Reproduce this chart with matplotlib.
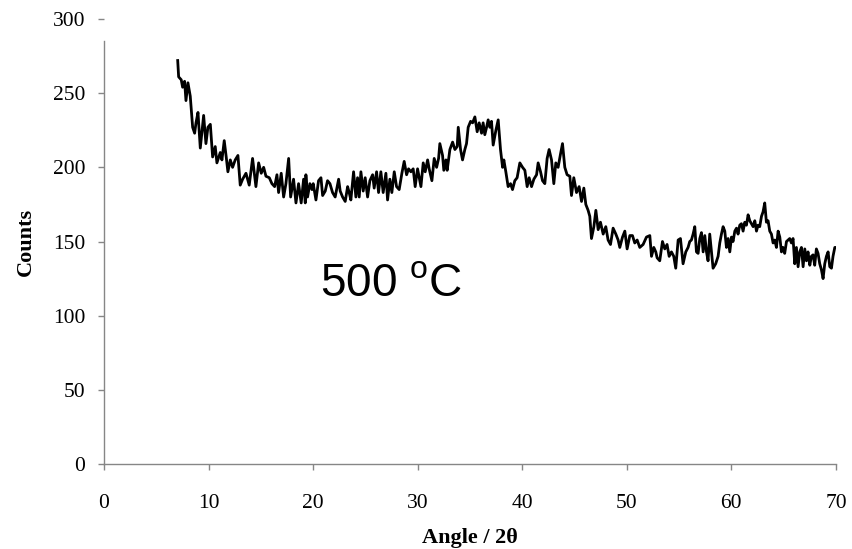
import matplotlib
matplotlib.use("Agg")
import matplotlib.pyplot as plt

# XRD pattern, in pieces (angle 2theta, counts)
angle_a = [7.05, 7.14, 7.39, 7.52, 7.71, 7.84, 8.03, 8.25, 8.48, 8.67, 8.80, 8.99,
           9.21, 9.53, 9.75, 9.94, 10.17, 10.39, 10.64, 10.80, 11.12, 11.28, 11.50,
           11.69, 11.85, 12.08, 12.30, 12.55, 12.81, 13.03, 13.26, 13.58, 13.89,
           14.21, 14.53, 14.79, 15.04, 15.27, 15.49, 15.81, 16.06, 16.32, 16.54,
           16.70, 16.95, 17.18, 17.40, 17.66, 17.85, 18.13, 18.36, 18.61, 18.86,
           19.09, 19.25]
counts_a = [272, 261, 259, 254, 258, 245, 257, 248, 227, 223, 230, 237,
            213, 235, 216, 227, 229, 207, 214, 203, 210, 205, 218,
            207, 197, 205, 200, 205, 208, 188, 192, 196, 188,
            206, 187, 203, 196, 200, 194, 193, 189, 187, 195,
            183, 196, 180, 189, 206, 180, 192, 176, 189, 176,
            192, 176]

angle_b = [19.31, 19.47, 19.69, 19.89, 20.01, 20.27, 20.52, 20.75, 20.91,
           21.16, 21.38, 21.61, 21.86, 22.11, 22.44, 22.59, 22.82, 23.07, 23.30,
           23.45, 23.61, 23.87, 24.09, 24.25, 24.41, 24.57, 24.79, 24.98, 25.21,
           25.43, 25.69, 25.84, 26.07, 26.26, 26.48, 26.70, 26.96, 27.12, 27.34,
           27.53, 27.76, 27.98, 28.23, 28.49, 28.71, 28.94, 29.13, 29.35, 29.57,
           29.76, 29.99, 30.31, 30.53, 30.72, 30.95, 31.10, 31.36, 31.58, 31.81, 32.00]
counts_b = [195, 180, 189, 185, 189, 178, 191, 193, 181,
            184, 191, 189, 183, 180, 192, 184, 180, 177, 187,
            183, 178, 197, 180, 193, 180, 197, 184, 193, 180,
            191, 195, 186, 197, 183, 197, 183, 196, 178, 192,
            183, 197, 187, 185, 196, 204, 195, 199, 197, 199,
            187, 199, 187, 203, 197, 205, 199, 191, 206, 200, 206]

angle_c = [32.12, 32.38, 32.50, 32.70, 32.82, 33.08, 33.34, 33.56, 33.78, 33.88,
           34.10, 34.29, 34.51, 34.67, 34.83, 35.06, 35.25, 35.47, 35.69, 35.88,
           36.11, 36.26, 36.42, 36.59, 36.74, 36.90, 37.06, 37.22, 37.48, 37.70,
           37.92, 38.12, 38.24, 38.43, 38.65, 38.88, 39.07, 39.29, 39.51, 39.77,
           40.03, 40.25, 40.47, 40.66, 40.89, 41.11, 41.37, 41.52, 41.75, 41.94,
           42.16, 42.38, 42.57, 42.80, 43.02, 43.21, 43.43, 43.66, 43.85, 44.07,
           44.29, 44.55]
counts_c = [216, 208, 198, 205, 198, 212, 217, 212, 214, 227,
            212, 205, 212, 216, 227, 231, 230, 234, 224, 230,
            223, 230, 222, 227, 232, 227, 231, 215, 225, 232,
            212, 200, 205, 197, 187, 189, 185, 191, 193, 203,
            200, 198, 187, 193, 187, 192, 195, 203, 197, 191,
            189, 206, 212, 205, 189, 203, 200, 209, 216, 200,
            195, 194]

angle_d = [44.71, 44.93, 45.19, 45.44, 45.67, 45.89, 46.08, 46.30, 46.46, 46.62,
           46.85, 47.04, 47.26, 47.48, 47.74, 47.99, 48.21, 48.44, 48.69, 48.95,
           49.17, 49.33, 49.59, 49.81, 50.03, 50.29, 50.54, 50.76, 50.99, 51.24,
           51.56, 51.88]
counts_d = [181, 193, 183, 187, 177, 186, 175, 171, 167, 152,
            160, 171, 158, 163, 155, 160, 151, 148, 159, 155,
            151, 146, 153, 157, 145, 154, 154, 149, 151, 146,
            148, 153]

angle_e = [52.20, 52.36, 52.58, 52.77, 52.90, 53.15, 53.41, 53.63, 53.85, 54.05,
           54.27, 54.49, 54.68, 54.91, 55.13, 55.38, 55.64, 55.86, 56.02, 56.18,
           56.34, 56.50, 56.66, 56.82, 56.98, 57.14, 57.30, 57.46, 57.62, 57.77,
           57.93, 58.10, 58.25, 58.50, 58.73, 58.89, 59.05, 59.21, 59.37, 59.53,
           59.69, 59.85, 60.01, 60.16, 60.33, 60.49, 60.64, 60.80, 60.96, 61.12,
           61.28, 61.44, 61.60, 61.76, 61.92, 62.08, 62.24, 62.40, 62.55, 62.71,
           62.88, 63.03, 63.19, 63.35, 63.51, 63.67, 63.83, 63.99, 64.15, 64.31,
           64.47, 64.63, 64.79, 64.94, 65.10, 65.27, 65.42, 65.58, 65.74, 65.90,
           66.06, 66.22, 66.38, 66.54, 66.70, 66.86, 67.02, 67.18, 67.33, 67.50,
           67.65, 67.81, 67.97, 68.13, 68.29, 68.45, 68.61, 68.77, 68.93, 69.09,
           69.25, 69.41, 69.57, 69.72, 69.89, 70.00]
counts_e = [154, 140, 146, 143, 139, 137, 150, 145, 148, 140,
            143, 140, 132, 151, 152, 135, 143, 146, 150, 151,
            155, 160, 143, 142, 152, 156, 143, 154, 143, 137,
            155, 143, 132, 135, 140, 149, 155, 160, 157, 146,
            152, 143, 153, 150, 157, 159, 155, 161, 162, 157,
            163, 161, 168, 164, 162, 160, 164, 157, 161, 160,
            167, 170, 176, 163, 164, 157, 155, 149, 151, 146,
            157, 153, 143, 146, 142, 150, 151, 152, 149, 152,
            135, 146, 133, 143, 146, 133, 145, 137, 143, 134,
            140, 141, 134, 145, 142, 135, 131, 125, 135, 140,
            143, 133, 132, 140, 146, 146]

angle = angle_a + angle_b + angle_c + angle_d + angle_e
counts = counts_a + counts_b + counts_c + counts_d + counts_e

x_ticks = [0, 10, 20, 30, 40, 50, 60, 70]
y_ticks = [0, 50, 100, 150, 200, 250, 300]

plt.rcParams['mathtext.fontset'] = 'custom'
plt.rcParams['mathtext.rm'] = 'Liberation Sans'

fig = plt.figure(figsize=(8.53, 5.49), dpi=100)
ax = fig.add_axes([0.1219, 0.1548, 0.8581, 0.8106])

ax.plot(angle, counts, color='black', linewidth=2.0, solid_joinstyle='round')

ax.set_xlim(0, 70)
ax.set_ylim(0, 300)
ax.set_xticks(x_ticks)
ax.set_yticks(y_ticks)

axis_grey = '#868686'
for side in ['top', 'right']:
    ax.spines[side].set_visible(False)
for side in ['left', 'bottom']:
    ax.spines[side].set_color(axis_grey)
    ax.spines[side].set_linewidth(1.0)
ax.spines['left'].set_bounds(0, 285)

ax.tick_params(axis='both', direction='out', length=4.5, width=1.0,
               color=axis_grey, labelsize=15.5)
ax.tick_params(axis='x', pad=17)
ax.tick_params(axis='y', pad=9)
for lab in ax.get_xticklabels() + ax.get_yticklabels():
    lab.set_fontfamily('Liberation Serif')

ax.set_xlabel('Angle / 2\u03b8', fontfamily='Liberation Serif', fontweight='bold',
              fontsize=16, labelpad=11)
ax.set_ylabel('Counts', fontfamily='Liberation Serif', fontweight='bold',
              fontsize=16, labelpad=12)

ax.text(20.65, 113, '500 $^{\\mathregular{o}}$C', fontfamily='Liberation Sans',
        fontsize=33, ha='left', va='baseline')

fig.savefig('out.png', dpi=100)
